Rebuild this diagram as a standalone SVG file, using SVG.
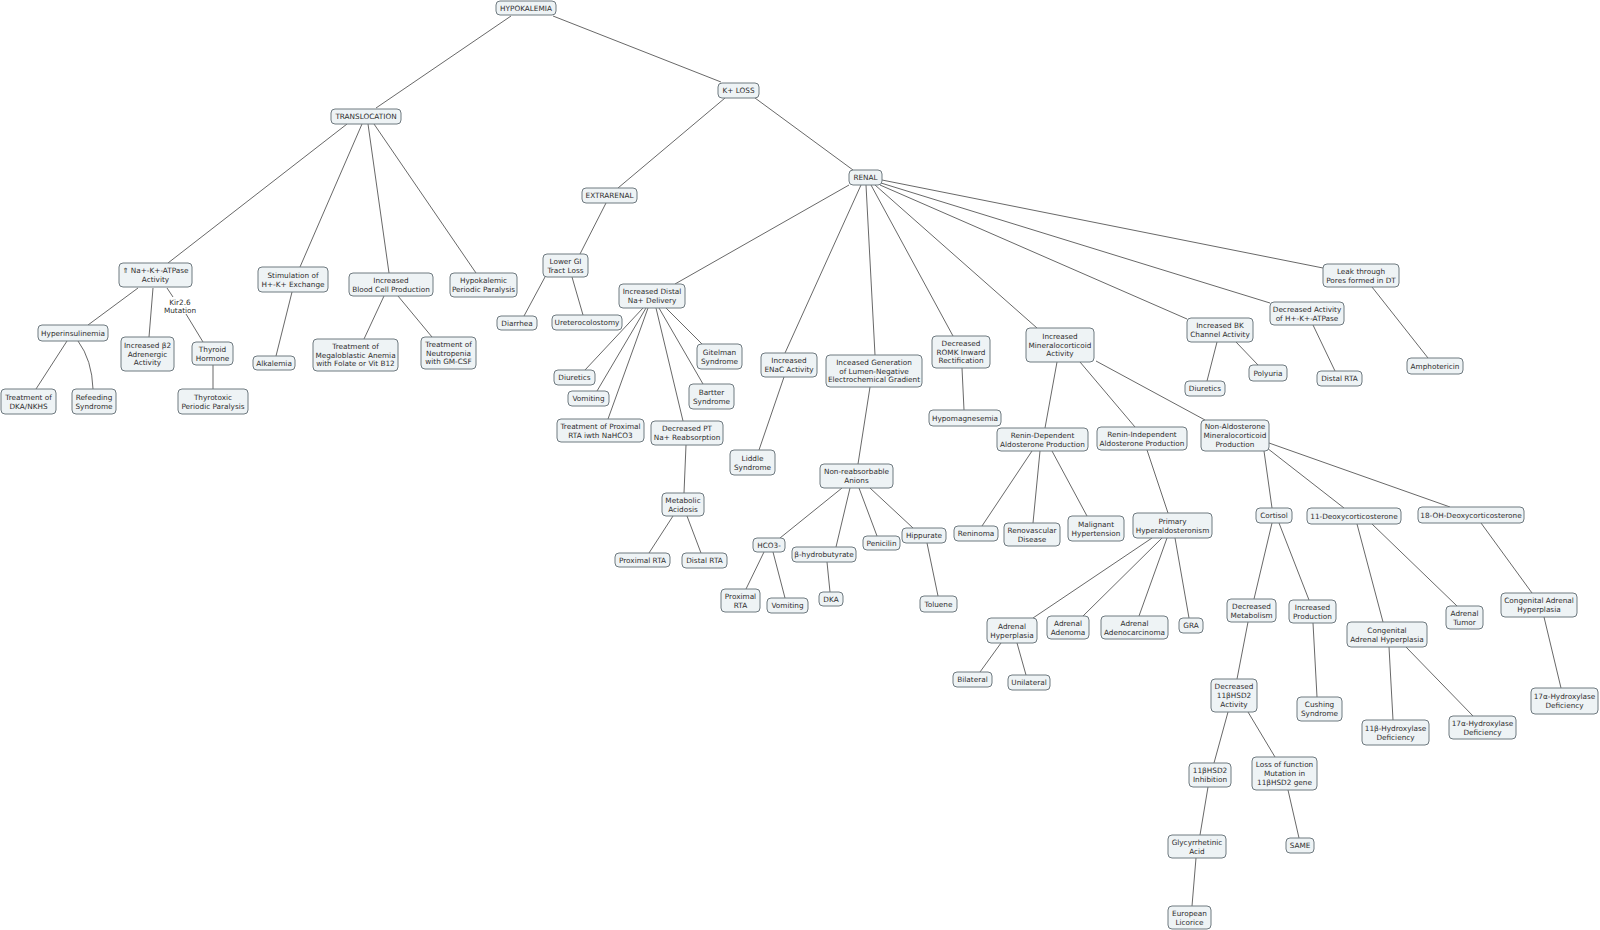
<svg xmlns="http://www.w3.org/2000/svg" width="1600" height="930" viewBox="0 0 1600 930">
<style>
.n rect{fill:#eef3f5;stroke:#6f7a80;stroke-width:1}
.n text,.lbl{font-family:"DejaVu Sans","Liberation Sans",sans-serif;font-size:7.3px;fill:#2e2e2e;text-anchor:middle}
#connectors path{stroke:#4d4d4d;stroke-width:0.85;fill:none}
</style>
<rect width="1600" height="930" fill="#fff"/>
<g id="connectors">
<path d="M511,16L376,108"/>
<path d="M553,16L721,82"/>
<path d="M347,124L168,263"/>
<path d="M362,124L300,267"/>
<path d="M368,124L389,273"/>
<path d="M374,124L476,273"/>
<path d="M138,288L88,325"/>
<path d="M153,288L149,337"/>
<path d="M167,288L173,297"/>
<path d="M186,314L203,342"/>
<path d="M67,341L36,389"/>
<path d="M78,341Q92,360 93,389"/>
<path d="M213,365L213,389"/>
<path d="M292,292L276,356"/>
<path d="M384,296L364,339"/>
<path d="M398,296L432,337"/>
<path d="M725,98L618,188"/>
<path d="M755,98L853,170"/>
<path d="M606,203L580,254"/>
<path d="M545,277L524,316"/>
<path d="M572,277L583,315"/>
<path d="M849,185L675,284"/>
<path d="M666,308L702,344"/>
<path d="M643,308L585,370"/>
<path d="M646,308L597,391"/>
<path d="M648,308L608,419"/>
<path d="M656,308L683,421"/>
<path d="M659,308L703,384"/>
<path d="M686,445L684,493"/>
<path d="M673,516L649,553"/>
<path d="M687,516L701,553"/>
<path d="M861,185L785,353"/>
<path d="M866,185L875,355"/>
<path d="M871,185L953,336"/>
<path d="M875,185L1037,328"/>
<path d="M880,185L1187,319"/>
<path d="M881,183L1270,303"/>
<path d="M882,180L1323,268"/>
<path d="M784,377L759,450"/>
<path d="M870,387L858,464"/>
<path d="M842,488L780,538"/>
<path d="M850,488L836,547"/>
<path d="M859,488L877,536"/>
<path d="M870,488L913,528"/>
<path d="M764,552L746,589"/>
<path d="M773,552L785,598"/>
<path d="M827,562L830,592"/>
<path d="M927,543L938,596"/>
<path d="M962,368L964,410"/>
<path d="M1057,362L1045,428"/>
<path d="M1080,362L1135,427"/>
<path d="M1096,361L1205,420"/>
<path d="M1032,451L982,526"/>
<path d="M1040,451L1033,523"/>
<path d="M1052,451L1087,516"/>
<path d="M1147,450L1168,513"/>
<path d="M1152,538L1033,618"/>
<path d="M1162,538L1083,616"/>
<path d="M1167,538L1139,616"/>
<path d="M1175,538L1189,618"/>
<path d="M1001,643L980,672"/>
<path d="M1017,643L1026,675"/>
<path d="M1217,342L1207,381"/>
<path d="M1236,342L1258,365"/>
<path d="M1313,325L1335,371"/>
<path d="M1372,287L1428,358"/>
<path d="M1264,451L1272,508"/>
<path d="M1267,448L1344,508"/>
<path d="M1269,443L1450,507"/>
<path d="M1272,523L1254,599"/>
<path d="M1279,523L1309,600"/>
<path d="M1357,524L1383,622"/>
<path d="M1372,524L1457,606"/>
<path d="M1481,523L1532,593"/>
<path d="M1248,622L1237,679"/>
<path d="M1313,623L1317,697"/>
<path d="M1389,647L1393,720"/>
<path d="M1406,647L1473,716"/>
<path d="M1544,617L1561,688"/>
<path d="M1228,712L1214,763"/>
<path d="M1248,712L1275,757"/>
<path d="M1208,787L1200,835"/>
<path d="M1288,790L1299,838"/>
<path d="M1196,858L1192,906"/>
<text class="lbl" x="180" y="304.5"><tspan x="180">Kir2.6</tspan><tspan x="180" dy="8.7">Mutation</tspan></text>
</g>
<g id="hypokalemia" class="n"><rect x="496" y="1" width="60" height="14" rx="4"/><text x="526" y="10.6">HYPOKALEMIA</text></g>
<g id="translocation" class="n"><rect x="331" y="109" width="70" height="15" rx="4"/><text x="366" y="119.1">TRANSLOCATION</text></g>
<g id="kloss" class="n"><rect x="718" y="83" width="41" height="15" rx="4"/><text x="738.5" y="93.1">K+ LOSS</text></g>
<g id="atpase" class="n"><rect x="119" y="263" width="73" height="24" rx="4"/><text x="155.5" y="273.3"><tspan x="155.5">⇑ Na+-K+-ATPase</tspan><tspan x="155.5" dy="8.7">Activity</tspan></text></g>
<g id="stimulation" class="n"><rect x="258" y="267" width="70" height="25" rx="4"/><text x="293" y="277.8"><tspan x="293">Stimulation of</tspan><tspan x="293" dy="8.7">H+-K+ Exchange</tspan></text></g>
<g id="bloodcell" class="n"><rect x="349" y="273" width="84" height="23" rx="4"/><text x="391" y="282.8"><tspan x="391">Increased</tspan><tspan x="391" dy="8.7">Blood Cell Production</tspan></text></g>
<g id="hpp" class="n"><rect x="450" y="273" width="67" height="24" rx="4"/><text x="483.5" y="283.3"><tspan x="483.5">Hypokalemic</tspan><tspan x="483.5" dy="8.7">Periodic Paralysis</tspan></text></g>
<g id="hyperinsulinemia" class="n"><rect x="38" y="325" width="70" height="16" rx="4"/><text x="73" y="335.6">Hyperinsulinemia</text></g>
<g id="beta2" class="n"><rect x="121" y="337" width="53" height="34" rx="4"/><text x="147.5" y="347.9"><tspan x="147.5">Increased β2</tspan><tspan x="147.5" dy="8.7">Adrenergic</tspan><tspan x="147.5" dy="8.7">Activity</tspan></text></g>
<g id="thyroid" class="n"><rect x="192" y="342" width="41" height="23" rx="4"/><text x="212.5" y="351.8"><tspan x="212.5">Thyroid</tspan><tspan x="212.5" dy="8.7">Hormone</tspan></text></g>
<g id="dka-nkhs" class="n"><rect x="1" y="389" width="55" height="25" rx="4"/><text x="28.5" y="399.8"><tspan x="28.5">Treatment of</tspan><tspan x="28.5" dy="8.7">DKA/NKHS</tspan></text></g>
<g id="refeeding" class="n"><rect x="72" y="389" width="44" height="25" rx="4"/><text x="94" y="399.8"><tspan x="94">Refeeding</tspan><tspan x="94" dy="8.7">Syndrome</tspan></text></g>
<g id="thyrotoxic" class="n"><rect x="178" y="389" width="70" height="25" rx="4"/><text x="213" y="399.8"><tspan x="213">Thyrotoxic</tspan><tspan x="213" dy="8.7">Periodic Paralysis</tspan></text></g>
<g id="alkalemia" class="n"><rect x="253" y="356" width="42" height="14" rx="4"/><text x="274" y="365.6">Alkalemia</text></g>
<g id="megaloblastic" class="n"><rect x="313" y="339" width="85" height="32" rx="4"/><text x="355.5" y="348.9"><tspan x="355.5">Treatment of</tspan><tspan x="355.5" dy="8.7">Megaloblastic Anemia</tspan><tspan x="355.5" dy="8.7">with Folate or Vit B12</tspan></text></g>
<g id="neutropenia" class="n"><rect x="421" y="337" width="55" height="32" rx="4"/><text x="448.5" y="346.9"><tspan x="448.5">Treatment of</tspan><tspan x="448.5" dy="8.7">Neutropenia</tspan><tspan x="448.5" dy="8.7">with GM-CSF</tspan></text></g>
<g id="extrarenal" class="n"><rect x="582" y="188" width="55" height="15" rx="4"/><text x="609.5" y="198.1">EXTRARENAL</text></g>
<g id="lowergi" class="n"><rect x="543" y="254" width="45" height="23" rx="4"/><text x="565.5" y="263.8"><tspan x="565.5">Lower GI</tspan><tspan x="565.5" dy="8.7">Tract Loss</tspan></text></g>
<g id="diarrhea" class="n"><rect x="497" y="316" width="40" height="14" rx="4"/><text x="517" y="325.6">Diarrhea</text></g>
<g id="ureterocolostomy" class="n"><rect x="552" y="315" width="70" height="15" rx="4"/><text x="587" y="325.1">Ureterocolostomy</text></g>
<g id="renal" class="n"><rect x="849" y="170" width="33" height="15" rx="4"/><text x="865.5" y="180.1">RENAL</text></g>
<g id="distal" class="n"><rect x="619" y="284" width="66" height="24" rx="4"/><text x="652" y="294.3"><tspan x="652">Increased Distal</tspan><tspan x="652" dy="8.7">Na+ Delivery</tspan></text></g>
<g id="diuretics1" class="n"><rect x="554" y="370" width="41" height="15" rx="4"/><text x="574.5" y="380.1">Diuretics</text></g>
<g id="vomiting1" class="n"><rect x="568" y="391" width="41" height="15" rx="4"/><text x="588.5" y="401.1">Vomiting</text></g>
<g id="proxtreat" class="n"><rect x="557" y="419" width="87" height="23" rx="4"/><text x="600.5" y="428.8"><tspan x="600.5">Treatment of Proximal</tspan><tspan x="600.5" dy="8.7">RTA iwth NaHCO3</tspan></text></g>
<g id="decpt" class="n"><rect x="651" y="421" width="72" height="24" rx="4"/><text x="687" y="431.3"><tspan x="687">Decreased PT</tspan><tspan x="687" dy="8.7">Na+ Reabsorption</tspan></text></g>
<g id="bartter" class="n"><rect x="689" y="384" width="45" height="25" rx="4"/><text x="711.5" y="394.8"><tspan x="711.5">Bartter</tspan><tspan x="711.5" dy="8.7">Syndrome</tspan></text></g>
<g id="gitelman" class="n"><rect x="697" y="344" width="45" height="25" rx="4"/><text x="719.5" y="354.8"><tspan x="719.5">Gitelman</tspan><tspan x="719.5" dy="8.7">Syndrome</tspan></text></g>
<g id="metacid" class="n"><rect x="662" y="493" width="42" height="23" rx="4"/><text x="683" y="502.8"><tspan x="683">Metabolic</tspan><tspan x="683" dy="8.7">Acidosis</tspan></text></g>
<g id="proxrta1" class="n"><rect x="615" y="553" width="55" height="14" rx="4"/><text x="642.5" y="562.6">Proximal RTA</text></g>
<g id="distrta1" class="n"><rect x="682" y="553" width="45" height="15" rx="4"/><text x="704.5" y="563.1">Distal RTA</text></g>
<g id="enac" class="n"><rect x="761" y="353" width="56" height="24" rx="4"/><text x="789" y="363.3"><tspan x="789">Increased</tspan><tspan x="789" dy="8.7">ENaC Activity</tspan></text></g>
<g id="liddle" class="n"><rect x="730" y="450" width="45" height="25" rx="4"/><text x="752.5" y="460.8"><tspan x="752.5">Liddle</tspan><tspan x="752.5" dy="8.7">Syndrome</tspan></text></g>
<g id="lumen" class="n"><rect x="826" y="355" width="96" height="32" rx="4"/><text x="874" y="364.9"><tspan x="874">Inceased Generation</tspan><tspan x="874" dy="8.7">of Lumen-Negative</tspan><tspan x="874" dy="8.7">Electrochemical Gradient</tspan></text></g>
<g id="nonreabs" class="n"><rect x="820" y="464" width="73" height="24" rx="4"/><text x="856.5" y="474.3"><tspan x="856.5">Non-reabsorbable</tspan><tspan x="856.5" dy="8.7">Anions</tspan></text></g>
<g id="hco3" class="n"><rect x="753" y="538" width="32" height="14" rx="4"/><text x="769" y="547.6">HCO3-</text></g>
<g id="bhb" class="n"><rect x="792" y="547" width="64" height="15" rx="4"/><text x="824" y="557.1">β-hydrobutyrate</text></g>
<g id="penicilin" class="n"><rect x="863" y="536" width="37" height="14" rx="4"/><text x="881.5" y="545.6">Penicilin</text></g>
<g id="hippurate" class="n"><rect x="902" y="528" width="44" height="15" rx="4"/><text x="924" y="538.1">Hippurate</text></g>
<g id="proxrta2" class="n"><rect x="721" y="589" width="39" height="23" rx="4"/><text x="740.5" y="598.8"><tspan x="740.5">Proximal</tspan><tspan x="740.5" dy="8.7">RTA</tspan></text></g>
<g id="vomiting2" class="n"><rect x="767" y="598" width="41" height="15" rx="4"/><text x="787.5" y="608.1">Vomiting</text></g>
<g id="dka" class="n"><rect x="819" y="592" width="24" height="14" rx="4"/><text x="831" y="601.6">DKA</text></g>
<g id="toluene" class="n"><rect x="920" y="596" width="37" height="16" rx="4"/><text x="938.5" y="606.6">Toluene</text></g>
<g id="romk" class="n"><rect x="932" y="336" width="58" height="32" rx="4"/><text x="961" y="345.9"><tspan x="961">Decreased</tspan><tspan x="961" dy="8.7">ROMK Inward</tspan><tspan x="961" dy="8.7">Rectification</tspan></text></g>
<g id="hypomagnesemia" class="n"><rect x="929" y="410" width="72" height="16" rx="4"/><text x="965" y="420.6">Hypomagnesemia</text></g>
<g id="mineralo" class="n"><rect x="1026" y="328" width="68" height="34" rx="4"/><text x="1060" y="338.9"><tspan x="1060">Increased</tspan><tspan x="1060" dy="8.7">Mineralocorticoid</tspan><tspan x="1060" dy="8.7">Activity</tspan></text></g>
<g id="renindep" class="n"><rect x="997" y="428" width="91" height="23" rx="4"/><text x="1042.5" y="437.8"><tspan x="1042.5">Renin-Dependent</tspan><tspan x="1042.5" dy="8.7">Aldosterone Production</tspan></text></g>
<g id="reninindep" class="n"><rect x="1097" y="427" width="90" height="23" rx="4"/><text x="1142" y="436.8"><tspan x="1142">Renin-Independent</tspan><tspan x="1142" dy="8.7">Aldosterone Production</tspan></text></g>
<g id="nonaldo" class="n"><rect x="1201" y="420" width="68" height="31" rx="4"/><text x="1235" y="429.4"><tspan x="1235">Non-Aldosterone</tspan><tspan x="1235" dy="8.7">Mineralocorticoid</tspan><tspan x="1235" dy="8.7">Production</tspan></text></g>
<g id="reninoma" class="n"><rect x="954" y="526" width="44" height="15" rx="4"/><text x="976" y="536.1">Reninoma</text></g>
<g id="renovascular" class="n"><rect x="1004" y="523" width="56" height="23" rx="4"/><text x="1032" y="532.8"><tspan x="1032">Renovascular</tspan><tspan x="1032" dy="8.7">Disease</tspan></text></g>
<g id="malignant" class="n"><rect x="1068" y="516" width="56" height="25" rx="4"/><text x="1096" y="526.8"><tspan x="1096">Malignant</tspan><tspan x="1096" dy="8.7">Hypertension</tspan></text></g>
<g id="primary" class="n"><rect x="1133" y="513" width="79" height="25" rx="4"/><text x="1172.5" y="523.8"><tspan x="1172.5">Primary</tspan><tspan x="1172.5" dy="8.7">Hyperaldosteronism</tspan></text></g>
<g id="adrhyperplasia" class="n"><rect x="987" y="618" width="50" height="25" rx="4"/><text x="1012" y="628.8"><tspan x="1012">Adrenal</tspan><tspan x="1012" dy="8.7">Hyperplasia</tspan></text></g>
<g id="adenoma" class="n"><rect x="1047" y="616" width="42" height="23" rx="4"/><text x="1068" y="625.8"><tspan x="1068">Adrenal</tspan><tspan x="1068" dy="8.7">Adenoma</tspan></text></g>
<g id="adenocarcinoma" class="n"><rect x="1101" y="616" width="67" height="23" rx="4"/><text x="1134.5" y="625.8"><tspan x="1134.5">Adrenal</tspan><tspan x="1134.5" dy="8.7">Adenocarcinoma</tspan></text></g>
<g id="gra" class="n"><rect x="1179" y="618" width="24" height="15" rx="4"/><text x="1191" y="628.1">GRA</text></g>
<g id="bilateral" class="n"><rect x="953" y="672" width="39" height="15" rx="4"/><text x="972.5" y="682.1">Bilateral</text></g>
<g id="unilateral" class="n"><rect x="1008" y="675" width="42" height="15" rx="4"/><text x="1029" y="685.1">Unilateral</text></g>
<g id="bk" class="n"><rect x="1187" y="318" width="66" height="24" rx="4"/><text x="1220" y="328.3"><tspan x="1220">Increased BK</tspan><tspan x="1220" dy="8.7">Channel Activity</tspan></text></g>
<g id="diuretics2" class="n"><rect x="1185" y="381" width="40" height="15" rx="4"/><text x="1205" y="391.1">Diuretics</text></g>
<g id="polyuria" class="n"><rect x="1249" y="365" width="38" height="16" rx="4"/><text x="1268" y="375.6">Polyuria</text></g>
<g id="dechk" class="n"><rect x="1270" y="302" width="74" height="23" rx="4"/><text x="1307" y="311.8"><tspan x="1307">Decreased Activity</tspan><tspan x="1307" dy="8.7">of H+-K+-ATPase</tspan></text></g>
<g id="distrta2" class="n"><rect x="1317" y="371" width="45" height="15" rx="4"/><text x="1339.5" y="381.1">Distal RTA</text></g>
<g id="leak" class="n"><rect x="1323" y="264" width="76" height="23" rx="4"/><text x="1361" y="273.8"><tspan x="1361">Leak through</tspan><tspan x="1361" dy="8.7">Pores formed in DT</tspan></text></g>
<g id="amphotericin" class="n"><rect x="1407" y="358" width="56" height="16" rx="4"/><text x="1435" y="368.6">Amphotericin</text></g>
<g id="cortisol" class="n"><rect x="1256" y="508" width="36" height="15" rx="4"/><text x="1274" y="518.1">Cortisol</text></g>
<g id="deoxy" class="n"><rect x="1307" y="508" width="94" height="16" rx="4"/><text x="1354" y="518.6">11-Deoxycorticosterone</text></g>
<g id="oh18" class="n"><rect x="1418" y="507" width="106" height="16" rx="4"/><text x="1471" y="517.6">18-OH-Deoxycorticosterone</text></g>
<g id="decmetab" class="n"><rect x="1227" y="599" width="49" height="23" rx="4"/><text x="1251.5" y="608.8"><tspan x="1251.5">Decreased</tspan><tspan x="1251.5" dy="8.7">Metabolism</tspan></text></g>
<g id="incprod" class="n"><rect x="1289" y="600" width="47" height="23" rx="4"/><text x="1312.5" y="609.8"><tspan x="1312.5">Increased</tspan><tspan x="1312.5" dy="8.7">Production</tspan></text></g>
<g id="cahmid" class="n"><rect x="1347" y="622" width="80" height="25" rx="4"/><text x="1387" y="632.8"><tspan x="1387">Congenital</tspan><tspan x="1387" dy="8.7">Adrenal Hyperplasia</tspan></text></g>
<g id="adrtumor" class="n"><rect x="1446" y="606" width="37" height="23" rx="4"/><text x="1464.5" y="615.8"><tspan x="1464.5">Adrenal</tspan><tspan x="1464.5" dy="8.7">Tumor</tspan></text></g>
<g id="cahright" class="n"><rect x="1501" y="593" width="76" height="24" rx="4"/><text x="1539" y="603.3"><tspan x="1539">Congenital Adrenal</tspan><tspan x="1539" dy="8.7">Hyperplasia</tspan></text></g>
<g id="dec11b" class="n"><rect x="1211" y="679" width="46" height="33" rx="4"/><text x="1234" y="689.4"><tspan x="1234">Decreased</tspan><tspan x="1234" dy="8.7">11βHSD2</tspan><tspan x="1234" dy="8.7">Activity</tspan></text></g>
<g id="cushing" class="n"><rect x="1297" y="697" width="45" height="24" rx="4"/><text x="1319.5" y="707.3"><tspan x="1319.5">Cushing</tspan><tspan x="1319.5" dy="8.7">Syndrome</tspan></text></g>
<g id="b11hyd" class="n"><rect x="1362" y="720" width="67" height="25" rx="4"/><text x="1395.5" y="730.8"><tspan x="1395.5">11β-Hydroxylase</tspan><tspan x="1395.5" dy="8.7">Deficiency</tspan></text></g>
<g id="a17mid" class="n"><rect x="1449" y="716" width="67" height="23" rx="4"/><text x="1482.5" y="725.8"><tspan x="1482.5">17α-Hydroxylase</tspan><tspan x="1482.5" dy="8.7">Deficiency</tspan></text></g>
<g id="a17right" class="n"><rect x="1531" y="688" width="67" height="26" rx="4"/><text x="1564.5" y="699.3"><tspan x="1564.5">17α-Hydroxylase</tspan><tspan x="1564.5" dy="8.7">Deficiency</tspan></text></g>
<g id="inhibition" class="n"><rect x="1189" y="763" width="42" height="24" rx="4"/><text x="1210" y="773.3"><tspan x="1210">11βHSD2</tspan><tspan x="1210" dy="8.7">Inhibition</tspan></text></g>
<g id="lossfn" class="n"><rect x="1252" y="757" width="65" height="33" rx="4"/><text x="1284.5" y="767.4"><tspan x="1284.5">Loss of function</tspan><tspan x="1284.5" dy="8.7">Mutation in</tspan><tspan x="1284.5" dy="8.7">11βHSD2 gene</tspan></text></g>
<g id="glycyrrhetinic" class="n"><rect x="1168" y="835" width="58" height="23" rx="4"/><text x="1197" y="844.8"><tspan x="1197">Glycyrrhetinic</tspan><tspan x="1197" dy="8.7">Acid</tspan></text></g>
<g id="same" class="n"><rect x="1286" y="838" width="28" height="15" rx="4"/><text x="1300" y="848.1">SAME</text></g>
<g id="licorice" class="n"><rect x="1168" y="906" width="43" height="23" rx="4"/><text x="1189.5" y="915.8"><tspan x="1189.5">European</tspan><tspan x="1189.5" dy="8.7">Licorice</tspan></text></g>
</svg>
